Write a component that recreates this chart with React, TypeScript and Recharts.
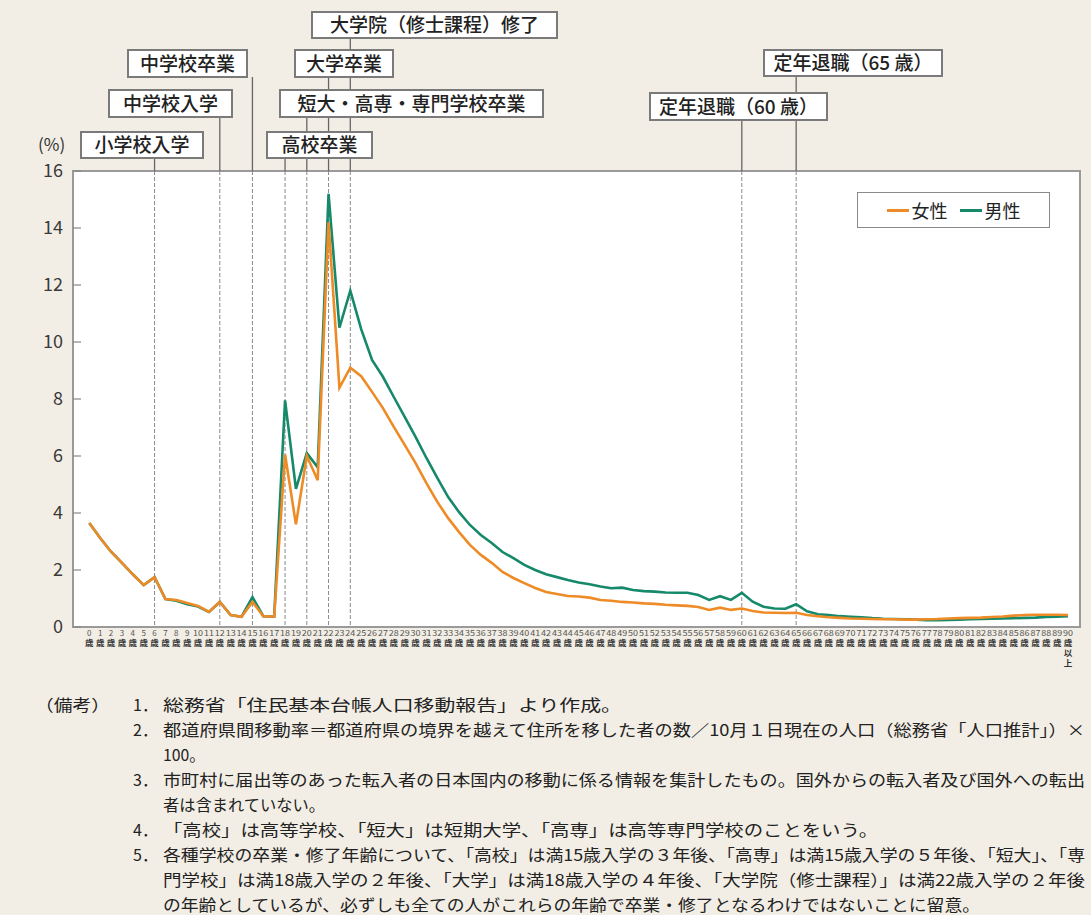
import React from "react";
import { LineChart, Line, XAxis, YAxis, CartesianGrid, ReferenceLine, ReferenceArea } from "recharts";

// ages 0..90 (90 = 90歳以上)
const ages = [
  0, 1, 2, 3, 4, 5, 6, 7, 8, 9, 10, 11, 12, 13, 14, 15, 16, 17, 18, 19, 20, 21, 22, 23, 24, 25, 26, 27, 28, 29,
  30, 31, 32, 33, 34, 35, 36, 37, 38, 39, 40, 41, 42, 43, 44, 45, 46, 47, 48, 49, 50, 51, 52, 53, 54, 55, 56, 57, 58, 59,
  60, 61, 62, 63, 64, 65, 66, 67, 68, 69, 70, 71, 72, 73, 74, 75, 76, 77, 78, 79, 80, 81, 82, 83, 84, 85, 86, 87, 88, 89, 90,
];

const female = [
  3.65, 3.12, 2.64, 2.25, 1.85, 1.47, 1.75, 0.98, 0.95, 0.84, 0.74, 0.53, 0.88, 0.42, 0.36, 0.88, 0.38, 0.36, 6.05, 3.6,
  6.0, 5.15, 14.2, 8.4, 9.1, 8.8, 8.25, 7.68, 7.02, 6.39, 5.75, 5.05, 4.39, 3.82, 3.33, 2.88, 2.53, 2.25, 1.93, 1.72,
  1.54, 1.37, 1.23, 1.16, 1.09, 1.07, 1.03, 0.95, 0.92, 0.88, 0.86, 0.83, 0.81, 0.78, 0.76, 0.74, 0.7, 0.6, 0.68, 0.6,
  0.65, 0.56, 0.51, 0.5, 0.49, 0.5, 0.42, 0.38, 0.34, 0.32, 0.3, 0.29, 0.28, 0.27, 0.27, 0.26, 0.26, 0.27, 0.28, 0.3,
  0.31, 0.32, 0.33, 0.35, 0.37, 0.4, 0.42, 0.43, 0.43, 0.43, 0.42,
];

const male = [
  3.65, 3.12, 2.64, 2.25, 1.85, 1.47, 1.75, 0.98, 0.92, 0.8, 0.72, 0.53, 0.88, 0.42, 0.36, 1.05, 0.38, 0.36, 7.95, 4.85,
  6.1, 5.6, 15.2, 10.5, 11.8, 10.45, 9.37, 8.78, 8.07, 7.37, 6.67, 5.93, 5.23, 4.56, 4.03, 3.58, 3.23, 2.95, 2.63, 2.42,
  2.18, 2.0, 1.85, 1.75, 1.65, 1.56, 1.5, 1.42, 1.36, 1.38, 1.3, 1.26, 1.24, 1.21, 1.2, 1.2, 1.12, 0.95, 1.08, 0.95,
  1.2, 0.89, 0.71, 0.65, 0.64, 0.8, 0.55, 0.45, 0.42, 0.38, 0.36, 0.34, 0.31, 0.29, 0.28, 0.27, 0.26, 0.24, 0.24, 0.25,
  0.26, 0.27, 0.28, 0.29, 0.3, 0.31, 0.32, 0.33, 0.35, 0.36, 0.38,
];

const yTicks = [0, 2, 4, 6, 8, 10, 12, 14, 16];
const seriesNames = ["女性", "男性"];

const eventAges = [6, 12, 15, 18, 20, 22, 24, 60, 65];
const eventLabels = [
  "小学校入学",
  "中学校入学",
  "中学校卒業",
  "高校卒業",
  "短大・高専・専門学校卒業",
  "大学卒業",
  "大学院（修士課程）修了",
  "定年退職（60 歳）",
  "定年退職（65 歳）",
];

// box layout for each event label: left, top, width, height
const boxLayout = [
  [81, 132, 122, 26],
  [109, 90, 123, 27],
  [128, 50, 119, 27],
  [267, 132, 105, 26],
  [280, 90, 263, 27],
  [295, 50, 98, 27],
  [312, 12, 245, 26],
  [650, 93, 177, 27],
  [764, 50, 178, 26],
];

const notes = [
  "総務省「住民基本台帳人口移動報告」より作成。",
  "都道府県間移動率＝都道府県の境界を越えて住所を移した者の数／10月１日現在の人口（総務省「人口推計」）×",
  "100。",
  "市町村に届出等のあった転入者の日本国内の移動に係る情報を集計したもの。国外からの転入者及び国外への転出",
  "者は含まれていない。",
  "「高校」は高等学校、「短大」は短期大学、「高専」は高等専門学校のことをいう。",
  "各種学校の卒業・修了年齢について、「高校」は満15歳入学の３年後、「高専」は満15歳入学の５年後、「短大」、「専",
  "門学校」は満18歳入学の２年後、「大学」は満18歳入学の４年後、「大学院（修士課程）」は満22歳入学の２年後",
  "の年齢としているが、必ずしも全ての人がこれらの年齢で卒業・修了となるわけではないことに留意。",
];
const noteNumbers = ["1．", "2．", "", "3．", "", "4．", "5．", "", ""];
// x start, x end of each note line
const noteSpan = [
  [163, 622],
  [163, 1085],
  [163, 205],
  [163, 1085],
  [163, 325],
  [163, 878],
  [163, 1085],
  [163, 1085],
  [163, 980],
];

const FEMALE = "#ee8b26";
const MALE = "#15896a";
const FONT = '"Noto Sans CJK JP", "Noto Sans", sans-serif';

const data = ages.map((age, i) => ({ age, female: female[i], male: male[i] }));

const XTick = ({ x, y, payload }: any) => {
  const v = payload.value;
  const two = String(v).length > 1;
  return (
    <g>
      <text
        x={x}
        y={y + 7}
        textAnchor="middle"
        fontSize={8}
        fill="#555"
        fontFamily={FONT}
        textLength={two ? 10 : undefined}
        lengthAdjust="spacingAndGlyphs"
      >
        {v}
      </text>
      <text x={x} y={y + 17} textAnchor="middle" fontSize={8.5} fontWeight={700} fill="#333" fontFamily={FONT}>
        歳
      </text>
      {v === 90 && (
        <>
          <text x={x} y={y + 27} textAnchor="middle" fontSize={8.5} fontWeight={700} fill="#333" fontFamily={FONT}>
            以
          </text>
          <text x={x} y={y + 37} textAnchor="middle" fontSize={8.5} fontWeight={700} fill="#333" fontFamily={FONT}>
            上
          </text>
        </>
      )}
    </g>
  );
};

const YTick = ({ x, y, payload }: any) => (
  <g>
    <text x={x - 2} y={y} dy={6} textAnchor="end" fontSize={18} fill="#3a3a3a" fontFamily={FONT}>
      {payload.value}
    </text>
    <line x1={x + 8} x2={x + 16} y1={y} y2={y} stroke="#888" strokeWidth={1.2} />
  </g>
);

const eventLine = (i: number) => (props: any) => {
  const x = props.x1;
  const top = Math.min(props.y1, props.y2);
  const bottom = Math.max(props.y1, props.y2);
  const b = boxLayout[i];
  return (
    <g>
      <line x1={x} x2={x} y1={b[1] + b[3]} y2={top} stroke="#666" strokeWidth={1.3} />
      <line x1={x} x2={x} y1={top} y2={bottom} stroke="#8a8a8a" strokeWidth={1} strokeDasharray="4 2" />
    </g>
  );
};

const eventBox = (i: number) => () => {
  const b = boxLayout[i];
  return (
    <g>
      <rect x={b[0]} y={b[1]} width={b[2]} height={b[3]} fill="#fff" stroke="#7a7a7a" strokeWidth={2} />
      <text
        x={b[0] + b[2] / 2}
        y={b[1] + b[3] / 2}
        dy={7}
        textAnchor="middle"
        fontSize={19}
        fill="#222"
        fontFamily={FONT}
        fontWeight={500}
      >
        {eventLabels[i]}
      </text>
    </g>
  );
};

export default function App() {
  return (
    <div
      style={{
        position: "absolute",
        left: 0,
        top: 0,
        width: 1091,
        height: 915,
        background: "#f2eee5",
        fontFamily: FONT,
        overflow: "hidden",
      }}
    >
      <div style={{ position: "absolute", left: 0, top: 0 }}>
        <LineChart width={1091} height={690} data={data} margin={{ top: 171, right: 11, left: 10, bottom: 13 }}>
          <CartesianGrid horizontal={false} vertical={false} fill="#fff" />
          <ReferenceArea
            x1={-1.5}
            x2={91.1}
            y1={0}
            y2={16}
            fill="none"
            stroke="#9a9a9a"
            strokeWidth={2}
            ifOverflow="extendDomain"
          />
          <XAxis
            dataKey="age"
            type="number"
            domain={[-1.5, 91.1]}
            ticks={ages}
            interval={0}
            height={50}
            tickSize={0}
            tickMargin={2}
            axisLine={false}
            tickLine={false}
            tick={<XTick />}
            allowDataOverflow
          />
          <YAxis
            domain={[0, 16]}
            ticks={yTicks}
            width={63}
            tickSize={0}
            tickMargin={8}
            axisLine={false}
            tickLine={false}
            tick={<YTick />}
            allowDataOverflow
          />
          {eventAges.map((a, i) => (
            <ReferenceLine key={`l${a}`} x={a} shape={eventLine(i)} />
          ))}
          <Line
            type="linear"
            dataKey="male"
            name={seriesNames[1]}
            stroke={MALE}
            strokeWidth={2.6}
            dot={false}
            isAnimationActive={false}
          />
          <Line
            type="linear"
            dataKey="female"
            name={seriesNames[0]}
            stroke={FEMALE}
            strokeWidth={2.6}
            dot={false}
            isAnimationActive={false}
          />
          {eventAges.map((a, i) => (
            <ReferenceLine key={`b${a}`} x={a} shape={eventBox(i)} />
          ))}
        </LineChart>
      </div>

      <div style={{ position: "absolute", left: 38, top: 131, fontSize: 17, color: "#333" }}>(%)</div>

      <div
        style={{
          position: "absolute",
          left: 857,
          top: 192,
          width: 193,
          height: 36,
          background: "#fff",
          border: "1.5px solid #8a8a8a",
          boxSizing: "border-box",
          display: "flex",
          alignItems: "center",
          justifyContent: "center",
          gap: 12,
          fontSize: 18,
          color: "#222",
        }}
      >
        {[FEMALE, MALE].map((c, i) => (
          <span key={c} style={{ display: "flex", alignItems: "center" }}>
            <span style={{ display: "inline-block", width: 22, height: 3, background: c, marginRight: 3 }} />
            {seriesNames[i]}
          </span>
        ))}
      </div>

      <svg style={{ position: "absolute", left: 0, top: 690 }} width={1091} height={225}>
        <text x={35} y={15} dy={6} fontSize={16} fill="#222" fontFamily={FONT} textLength={75} lengthAdjust="spacingAndGlyphs">
          （備考）
        </text>
        {notes.map((t, i) => (
          <g key={i}>
            {noteNumbers[i] && (
              <text x={133} y={15 + i * 25} dy={6} fontSize={16} fill="#222" fontFamily={FONT}>
                {noteNumbers[i]}
              </text>
            )}
            <text
              x={noteSpan[i][0]}
              y={15 + i * 25}
              dy={6}
              fontSize={16}
              fill="#222"
              fontFamily={FONT}
              textLength={noteSpan[i][1] - noteSpan[i][0]}
              lengthAdjust="spacingAndGlyphs"
            >
              {t}
            </text>
          </g>
        ))}
      </svg>
    </div>
  );
}
